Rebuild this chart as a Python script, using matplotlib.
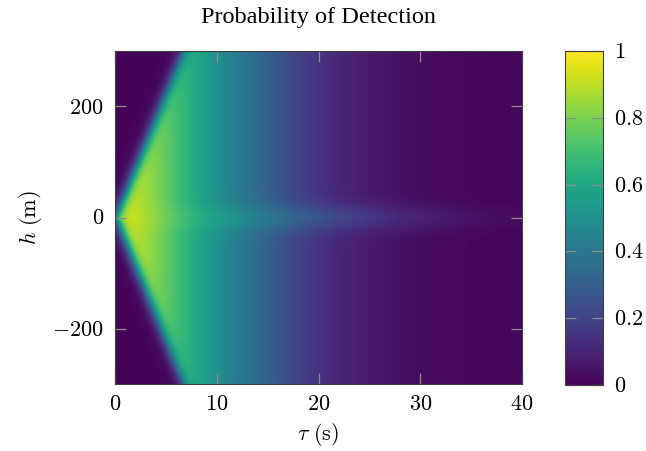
import numpy as np
import matplotlib
matplotlib.use("Agg")
import matplotlib.pyplot as plt

plt.rcParams['mathtext.fontset'] = 'cm'
plt.rcParams['font.family'] = ['Liberation Serif', 'DejaVu Serif']

# ---- data ----
tau_knots = [0, 1, 2, 3, 4, 5, 6, 8, 10, 12, 14, 16, 18, 20, 22, 25, 28, 31, 35, 40]
# probability inside the cone, away from h = 0
pd_inside = [0.95, 0.93, 0.90, 0.86, 0.81, 0.76, 0.70, 0.60, 0.50, 0.42, 0.34,
             0.27, 0.20, 0.15, 0.11, 0.07, 0.045, 0.03, 0.018, 0.012]
# probability along the h = 0 ridge
pd_ridge = [0.95, 0.93, 0.91, 0.87, 0.83, 0.78, 0.73, 0.64, 0.56, 0.50, 0.43,
            0.37, 0.31, 0.26, 0.21, 0.16, 0.11, 0.08, 0.05, 0.03]
pd_outside = 0.01          # outside the detection cone
cone_speed = 45.5          # m/s, slope of the cone edge
cone_offset = 0.1          # s, cone edge at h = 0
edge_width = 0.33          # s
ridge_halfwidth = 24.0     # m

tau_lim = [0, 40]
h_lim = [-300, 300]
x_ticks = [0, 10, 20, 30, 40]
y_ticks = [-200, 0, 200]
cb_ticks = [0, 0.2, 0.4, 0.6, 0.8, 1]

# ---- field ----
tau = np.linspace(tau_lim[0], tau_lim[1], 820)
h = np.linspace(h_lim[0], h_lim[1], 700)
T, H = np.meshgrid(tau, h)
inside = np.interp(T, tau_knots, pd_inside)
ridge = np.interp(T, tau_knots, pd_ridge)
w = np.exp(-(H / ridge_halfwidth) ** 2)
val_in = inside + (ridge - inside) * w
edge = np.abs(H) / cone_speed + cone_offset
mask = 1.0 / (1.0 + np.exp(-(T - edge) / edge_width))
Z = pd_outside + (val_in - pd_outside) * mask

# ---- figure ----
fig = plt.figure(figsize=(6.46, 4.51), dpi=100)
ax = fig.add_axes([115 / 646, 1 - 384 / 451, 407 / 646, 333 / 451])
im = ax.imshow(Z, origin='lower', aspect='auto', cmap='viridis',
               extent=[tau_lim[0], tau_lim[1], h_lim[0], h_lim[1]],
               vmin=0, vmax=1, interpolation='bilinear')
ax.set_xlim(tau_lim)
ax.set_ylim(h_lim)
ax.set_xticks(x_ticks)
ax.set_yticks(y_ticks)
ax.set_xticklabels([f"${v}$" if v >= 0 else f"$-{abs(v)}$" for v in x_ticks])
ax.set_yticklabels([f"${v}$" if v >= 0 else f"$-{abs(v)}$" for v in y_ticks])
ax.tick_params(direction='in', top=True, right=True, length=8, width=0.9,
               color='#8c8c8c', labelsize=16, pad=8)
ax.tick_params(axis='x', pad=9)
for s in ax.spines.values():
    s.set_color('#404040')
    s.set_linewidth(0.8)
ax.set_xlabel(r"$\tau\ \mathrm{(s)}$", fontsize=16, labelpad=4)
ax.set_ylabel(r"$h\ \mathrm{(m)}$", fontsize=16, labelpad=6)
ax.set_title("Probability of Detection", fontsize=17.5, pad=20)

cax = fig.add_axes([565 / 646, 1 - 385 / 451, 38 / 646, 334 / 451])
cb = fig.colorbar(im, cax=cax, ticks=cb_ticks)
cb.ax.set_yticklabels([f"${t:g}$" for t in cb_ticks])
cax.tick_params(direction='in', left=True, right=True, length=8, width=0.9,
                color='#8c8c8c', labelsize=16, pad=8)
cb.outline.set_edgecolor('#404040')
cb.outline.set_linewidth(0.8)

fig.savefig("out.png", dpi=100)
